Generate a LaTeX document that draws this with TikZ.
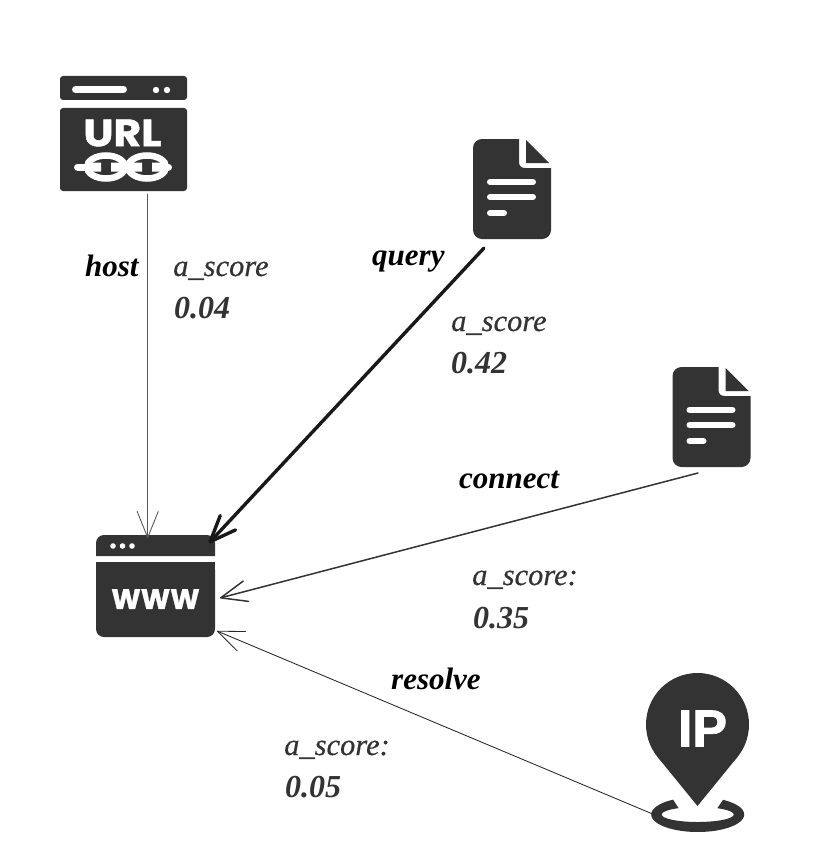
\documentclass[tikz,border=0pt]{standalone}
\usepackage{fontspec}
\setmainfont{Liberation Serif}
\newfontfamily\iconfont[FakeBold=1.2]{Poppins Bold}
\newfontfamily\ipfont[FakeBold=1.5]{Liberation Sans Bold}
\newfontfamily\scorefont[FakeBold=0.5]{Liberation Serif Italic}
\usetikzlibrary{arrows.meta}
\definecolor{icondark}{HTML}{333333}
\tikzset{
  x=1pt,y=-1pt,
  iconfill/.style={fill=icondark,draw=none},
  cutline/.style={draw=white,line cap=round,line width=6pt},
  relation/.style={anchor=base west,inner sep=0pt,text=black,font=\fontsize{31}{31}\selectfont\bfseries\itshape},
  score/.style={anchor=base west,inner sep=0pt,text=icondark,font=\fontsize{30.5}{31}\selectfont\scorefont},
  value/.style={anchor=base west,inner sep=0pt,text=icondark,font=\fontsize{32}{32}\selectfont\bfseries\itshape},
  icontext/.style={inner sep=0pt,text=white,font=\fontsize{#1}{#1}\selectfont\iconfont},
  link/.style={-{Straight Barb[length=26pt,width=21pt,round]},line cap=round},
  doc/.pic={
    \path[iconfill] (9,0) -- (46,0) -- (46,23) .. controls (46,26.5) and (48,29) .. (52,29) -- (78,29) -- (78,91)
      .. controls (78,96) and (74,100) .. (69,100) -- (9,100) .. controls (4,100) and (0,96) .. (0,91)
      -- (0,9) .. controls (0,4) and (4,0) .. (9,0) -- cycle;
    \fill[icondark] (53,1) -- (76,24) -- (53,24) -- cycle;
    \draw[cutline] (17,43) -- (60,43);
    \draw[cutline] (17,58) -- (60,58);
    \draw[cutline] (17,74) -- (31,74);
  }
}
\begin{document}
\begin{tikzpicture}
\useasboundingbox (0,0) rectangle (838,864);
% URL icon
\path[iconfill,rounded corners=3pt] (60,76) rectangle (187,100);
\path[iconfill,rounded corners=3pt] (60,108) rectangle (187,191);
\draw[white,line width=7pt,line cap=round] (75.5,89.5) -- (123.5,89.5);
\fill[white] (156,90) circle (3.2) (167,90) circle (3.2);
\node[icontext=38,xscale=1.12] (urltext) at (122.5,133) {URL};
\draw[white,line width=7pt,line cap=round] (77.5,167) -- (86,167) (166,167) -- (168.5,167);
\draw[white,line width=6.5pt] (106,167) ellipse [x radius=19,y radius=11.5];
\draw[white,line width=6.5pt] (147,167) ellipse [x radius=19,y radius=11.5];
\fill[white] (88,162.5) rectangle (101,171.5) (111,162.5) rectangle (124,171.5);
\fill[white] (129,162.5) rectangle (142,171.5) (152,162.5) rectangle (165,171.5);
% document icons
\pic at (473,139) {doc};
\pic at (672.5,367) {doc};
% WWW icon
\path[iconfill,rounded corners=8pt] (96,556) -- (96,535) -- (215,535) -- (215,556);
\path[iconfill] (96,548) rectangle (215,556);
\path[iconfill,rounded corners=8pt] (96,562) -- (215,562) -- (215,637) -- (96,637) -- cycle;
\path[iconfill] (96,562) rectangle (215,572);
\fill[white] (113,546) circle (2.8) (122.5,546) circle (2.8) (132,546) circle (2.8);
\node[icontext=28] (wwwtext) at (155.5,599) {WWW};
% IP pin icon
\fill[icondark] (697.5,724.5) circle (51.5);
\fill[icondark] (657.6,757) -- (697.5,806) -- (737.4,757) -- (697.5,724.5) -- cycle;
\fill[icondark] plot[smooth,samples=60,domain=-57:238] ({697.7+46.5*cos(\x)},{814.5+17.5*sin(\x)})
  -- plot[smooth,samples=60,domain=238:-57] ({697.7+36*cos(\x)},{814.5+7.5*sin(\x)}) -- cycle;
\node[inner sep=0pt,text=white,font=\fontsize{52}{52}\selectfont\ipfont] (iptext) at (702.5,728.5) {IP};
% connector ends
\coordinate (urlout) at (147.7,194);
\coordinate (wwwtop) at (147.7,538);
\coordinate (docaout) at (484,248);
\coordinate (wwwcorner) at (209,543);
\coordinate (docbout) at (698,473);
\coordinate (wwwright) at (220,598);
\coordinate (pinout) at (655,815);
\coordinate (wwwlow) at (217,631);
% connectors
\draw[link,draw=black!65,line width=0.9pt] (urlout) -- (wwwtop);
\draw[link,draw=black!90,line width=3.4pt] (docaout) -- (wwwcorner);
\draw[link,draw=icondark,line width=1.5pt] (docbout) -- (wwwright);
\draw[link,draw=black!85,line width=0.85pt] (pinout) -- (wwwlow);
% labels
\node[relation] (lhost) at (85,276) {host};
\node[relation] (lquery) at (372,265) {query};
\node[relation] (lconnect) at (459,488) {connect};
\node[relation] (lresolve) at (391,689) {resolve};
\node[score] (sa) at (173,276) {a\_score};
\node[value] (va) at (174,318) {0.04};
\node[score] (sb) at (451,331) {a\_score};
\node[value] (vb) at (451,373) {0.42};
\node[score] (sc) at (472,585) {a\_score:};
\node[value] (vc) at (473,628) {0.35};
\node[score] (sd) at (284,755) {a\_score:};
\node[value] (vd) at (285,797) {0.05};
\end{tikzpicture}
\end{document}
